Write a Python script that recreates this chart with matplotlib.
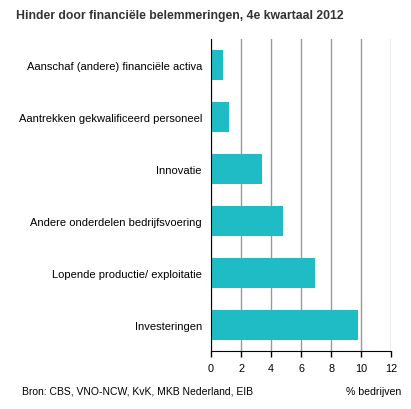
import matplotlib
matplotlib.use("Agg")
import matplotlib.pyplot as plt

categories = ["Aanschaf (andere) financiële activa",
              "Aantrekken gekwalificeerd personeel",
              "Innovatie",
              "Andere onderdelen bedrijfsvoering",
              "Lopende productie/ exploitatie",
              "Investeringen"]
values = [0.8, 1.2, 3.4, 4.8, 6.9, 9.8]
xticks = [0, 2, 4, 6, 8, 10, 12]

plt.rcParams['font.family'] = ['Liberation Sans', 'DejaVu Sans']

fig = plt.figure(figsize=(4.11, 4.10), dpi=100)
W, H = 411, 410
ax = fig.add_axes([211/W, (H-352)/H, (391.3-211)/W, (352-40)/H])
pos = list(range(len(categories)))
ax.barh(pos, values, height=0.56, color="#1fbcc6", zorder=3)
ax.set_ylim(len(categories)-0.5, -0.5)
ax.set_xlim(0, 12)
ax.set_xticks(xticks)
ax.set_xticklabels([str(t) for t in xticks], fontsize=7.8)
ax.set_yticks(pos)
ax.set_yticklabels(categories, fontsize=8)
ax.tick_params(axis='y', length=0, pad=6.5)
ax.tick_params(axis='x', length=4, width=1, color='black', pad=5)
ax.grid(axis='x', color='#999999', linewidth=1, zorder=0)
for s in ['top', 'right']:
    ax.spines[s].set_visible(False)
ax.spines['left'].set_color('black')
ax.spines['bottom'].set_color('black')
ax.spines['left'].set_zorder(4)

fig.text(16/W, 1-15.5/H, "Hinder door financiële belemmeringen, 4e kwartaal 2012",
         fontsize=8.8, fontweight='bold', color='#333333', va='center', ha='left')
fig.text(22/W, 1-392/H, "Bron: CBS, VNO-NCW, KvK, MKB Nederland, EIB",
         fontsize=7.5, color='black', va='center', ha='left')
fig.text(401/W, 1-392/H, "% bedrijven",
         fontsize=7.6, color='black', va='center', ha='right')

fig.savefig("out.png", dpi=100)
